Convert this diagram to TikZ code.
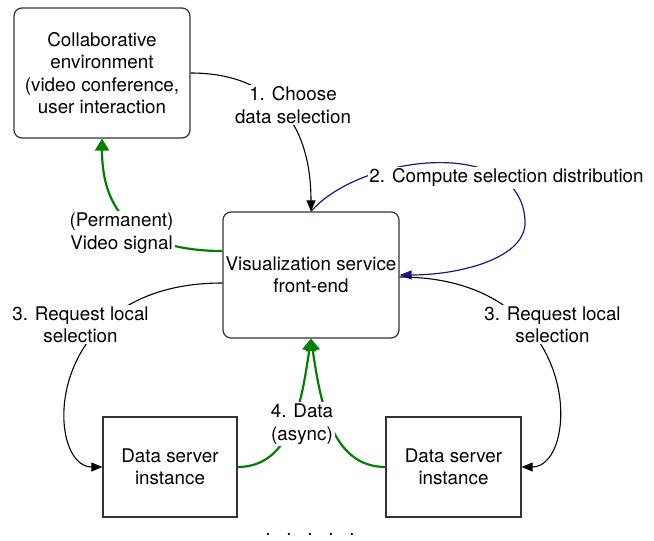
\documentclass[tikz,border=0pt]{standalone}
\usepackage{fontspec}
\setmainfont{TeX Gyre Heros}
\usetikzlibrary{arrows.meta}
\definecolor{sigGreen}{RGB}{0,128,0}
\definecolor{selBlue}{RGB}{25,25,140}
\begin{document}
\begin{tikzpicture}[x=1pt,y=-1pt,
  font=\fontsize{18.8}{22.4}\selectfont,
  box/.style={draw=black!80,line width=1.2pt,align=center,inner sep=0pt},
  rbox/.style={box,rounded corners=8pt},
  lbl/.style={fill=white,inner sep=1.5pt,align=center},
  blk/.style={line width=1.1pt,-{Triangle[length=11pt,width=9pt]}},
  grn/.style={sigGreen,line width=2.2pt,-{Triangle[length=12pt,width=14pt]}},
  blu/.style={selBlue,line width=1.2pt,-{Triangle[length=12pt,width=9pt]}}]
\useasboundingbox (0,0) rectangle (654,541);
%
\node[rbox,minimum width=176,minimum height=130] (env) at (102,73) {Collaborative\\environment\\(video conference,\\user interaction};
\node[rbox,minimum width=176,minimum height=126] (vis) at (311,275) {Visualization service\\front-end};
\node[box,minimum width=134,minimum height=100] (ds1) at (170,467) {Data server\\instance};
\node[box,minimum width=135,minimum height=100] (ds2) at (453.5,467) {Data server\\instance};
\node[anchor=base,inner sep=0pt] (more) at (310,535.5) {.\hspace{15.8pt}.\hspace{15.8pt}.\hspace{15.8pt}.\hspace{15.8pt}.};
\coordinate (loop) at (525,220);
%
\draw[blk] (env.east) .. controls +(80,0) and +(0,-90) .. (vis.north);
\draw[blu] (vis.north) .. controls (360,155) and (520,135) .. (loop) .. controls (528,258) and (460,275) .. (vis.east);
\draw[blk] ([yshift=-8pt]vis.west) .. controls +(-183,0) and +(-58,0) .. (ds1.west);
\draw[blk] ([yshift=-2pt]vis.east) .. controls +(186,0) and +(59,0) .. (ds2.east);
\draw[grn] ([yshift=24pt]vis.west) .. controls +(-100,0) and +(0,60) .. (env.south);
\draw[grn] (ds1.east) .. controls +(55,0) and +(-9,60) .. (vis.south);
\draw[grn] (ds2.west) .. controls +(-55,0) and +(9,60) .. (vis.south);
%
\node[lbl] (choose) at (293,105) {1. Choose\\data selection};
\node[lbl] (compute) at (506.5,178) {2. Compute selection distribution};
\node[lbl] (video) at (121.5,233) {(Permanent)\\Video signal};
\node[lbl] (reqL) at (80.5,324.5) {3. Request local\\selection};
\node[lbl] (reqR) at (552.5,324.5) {3. Request local\\selection};
\node[lbl] (data) at (302,424) {4. Data\\(async)};
\end{tikzpicture}
\end{document}
